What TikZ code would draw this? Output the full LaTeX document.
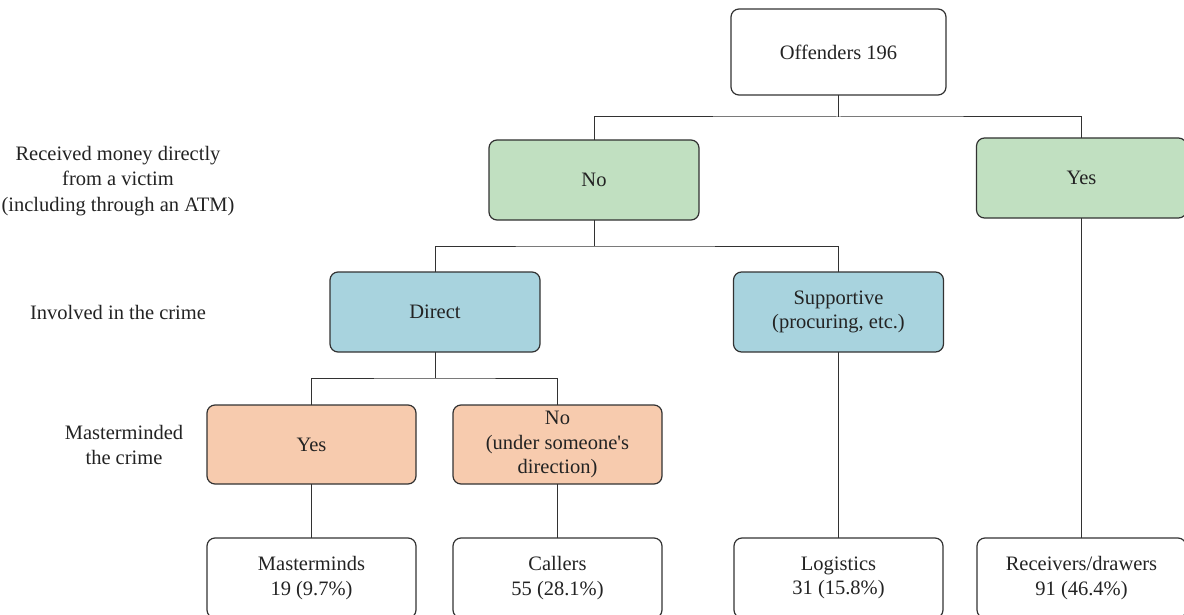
\documentclass[tikz,border=0pt]{standalone}
\usepackage{fontspec}
\setmainfont{Liberation Serif}[Ligatures=TeXOff]
\definecolor{gfill}{RGB}{193,224,193}
\definecolor{bfill}{RGB}{168,211,222}
\definecolor{ofill}{RGB}{247,203,174}
\definecolor{edge}{RGB}{50,50,50}
\definecolor{txt}{RGB}{35,35,35}
\begin{document}
\begin{tikzpicture}[x=1pt,y=-1pt,
  box/.style={draw=edge, line width=1.2pt, rounded corners=8pt, inner sep=0pt, outer sep=0pt,
    minimum width=210pt, minimum height=80pt, align=center, text=txt,
    font=\fontsize{20.5}{24.5}\selectfont},
  lbl/.style={align=center, text=txt, inner sep=0pt, font=\fontsize{20.5}{25.5}\selectfont},
  conn/.style={draw=edge, line width=1pt}]
\clip (0,0) rectangle (1184,615);
\useasboundingbox (0,0) rectangle (1184,615);
% nodes
\node[box, minimum width=215pt, minimum height=86pt] (off) at (838.5,52) {Offenders 196};
\node[box, fill=gfill] (no) at (594,180) {No};
\node[box, fill=gfill] (yes) at (1081.5,178) {Yes};
\node[box, fill=bfill] (dir) at (435,312) {Direct};
\node[box, fill=bfill] (sup) at (838.5,312) {Supportive\\(procuring, etc.)};
\node[box, fill=ofill, minimum width=209pt, minimum height=79pt] (oyes) at (311.5,444.5) {Yes};
\node[box, fill=ofill, minimum width=209pt, minimum height=79pt] (ono) at (557.5,444.5) {No\\(under someone's\\direction)};
\node[box, minimum width=209pt] (mm) at (311.5,578) {Masterminds\\19 (9.7\%)};
\node[box, minimum width=209pt] (cal) at (557.5,578) {Callers\\55 (28.1\%)};
\node[box, minimum width=209pt] (log) at (838.5,578) {Logistics\\31 (15.8\%)};
\node[box, minimum width=209pt] (rec) at (1081.5,578) {Receivers/drawers\\91 (46.4\%)};
% row labels
\node[lbl] (l1) at (118,181) {Received money directly\\from a victim\\(including through an ATM)};
\node[lbl] (l2) at (118,312) {Involved in the crime};
\node[lbl] (l3) at (124,445) {Masterminded\\the crime};
% junctions
\coordinate (j1) at (838.5,117);
\coordinate (j2) at (594,246);
\coordinate (j3) at (435,378);
% connectors
\draw[conn] (off.south) -- (j1);
\draw[conn] (no.north) |- (j1) -| (yes.north);
\draw[conn] (no.south) -- (j2);
\draw[conn] (dir.north) |- (j2) -| (sup.north);
\draw[conn] (dir.south) -- (j3);
\draw[conn] (oyes.north) |- (j3) -| (ono.north);
\draw[conn] (oyes.south) -- (mm.north);
\draw[conn] (ono.south) -- (cal.north);
\draw[conn] (sup.south) -- (log.north);
\draw[conn] (yes.south) -- (rec.north);
\end{tikzpicture}
\end{document}
